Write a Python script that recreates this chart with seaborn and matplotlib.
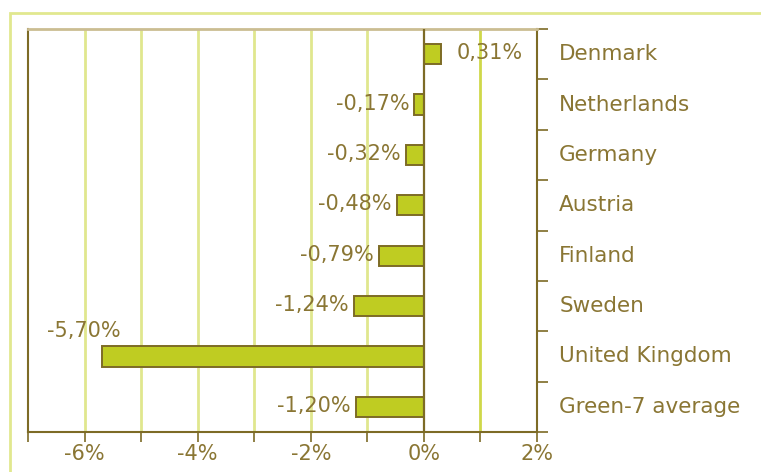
import matplotlib.pyplot as plt
import seaborn as sns
import pandas as pd
from matplotlib.ticker import MultipleLocator, FixedLocator
from matplotlib.patches import Rectangle

# Data
countries = ['Denmark', 'Netherlands', 'Germany', 'Austria', 'Finland',
             'Sweden', 'United Kingdom', 'Green-7 average']
changes = [0.31, -0.17, -0.32, -0.48, -0.79, -1.24, -5.70, -1.20]
x_ticks = [-6, -4, -2, 0, 2]
x_tick_labels = ['-6%', '-4%', '-2%', '0%', '2%']

BAR = '#bfcc22'
EDGE = '#7d6b26'
TXT = '#8a7634'
GRID = '#e0e78e'

sns.set_style('white')
plt.rcParams['font.family'] = ['DejaVu Sans']

fig = plt.figure(figsize=(7.61, 4.72), dpi=100)
ax = fig.add_axes([28 / 761, 1 - 432 / 472, (537 - 28) / 761, (432 - 29) / 472])

df = pd.DataFrame({'country': countries, 'change': changes})
sns.barplot(data=df, x='change', y='country', orient='h', color=BAR,
            saturation=1, edgecolor=EDGE, linewidth=1.4, width=0.4, ax=ax,
            zorder=2)

ax.set_xlim(-7, 2)
ax.set_ylim(7.5, -0.5)
ax.set_xlabel('')
ax.set_ylabel('')

# vertical grid
for v in range(-6, 2):
    if v == 0:
        continue
    ax.axvline(v, color='#cfd84a' if v == 1 else GRID, lw=2, zorder=0)
ax.axvline(0, color=EDGE, lw=1.6, zorder=3)

# x axis
ax.set_xticks(x_ticks)
ax.set_xticklabels(x_tick_labels)
ax.xaxis.set_minor_locator(MultipleLocator(1))
ax.tick_params(axis='x', which='both', bottom=True, direction='out',
               length=7, width=1.2, color=EDGE)
ax.tick_params(axis='x', which='major', labelsize=15, labelcolor=TXT, pad=2)

# y axis: labels on the right, ticks at category boundaries
ax.yaxis.tick_right()
ax.yaxis.set_minor_locator(FixedLocator([i - 0.5 for i in range(len(countries) + 1)]))
ax.tick_params(axis='y', which='major', length=0, pad=16, labelsize=15.5,
               labelcolor=TXT, left=False, right=True)
ax.tick_params(axis='y', which='minor', length=8, width=1.2, color=EDGE,
               direction='out', left=False, right=True)
for lbl in ax.get_yticklabels():
    lbl.set_verticalalignment('center')

for side in ['left', 'right', 'bottom']:
    ax.spines[side].set_color(EDGE)
    ax.spines[side].set_linewidth(1.5)
ax.spines['top'].set_color('#cbbd92')
ax.spines['top'].set_linewidth(2)

# value labels
for i, v in enumerate(changes):
    label = f'{v:.2f}'.replace('.', ',') + '%'
    if v >= 0:
        ax.annotate(label, (v, i), xytext=(15, 1), textcoords='offset pixels',
                    ha='left', va='center', fontsize=15, color=TXT)
    elif v < -3:
        ax.annotate(label, (v, i), xytext=(-18, 25), textcoords='offset pixels',
                    ha='center', va='center', fontsize=15, color=TXT)
    else:
        ax.annotate(label, (v, i), xytext=(-5, 1), textcoords='offset pixels',
                    ha='right', va='center', fontsize=15, color=TXT)

# outer frame
fig.add_artist(Rectangle((10 / 761, -0.1), 1.2, 1 - 13 / 472 + 0.1,
                         transform=fig.transFigure, fill=False,
                         edgecolor='#e1e88f', lw=2))

fig.savefig('out.png', dpi=100)
